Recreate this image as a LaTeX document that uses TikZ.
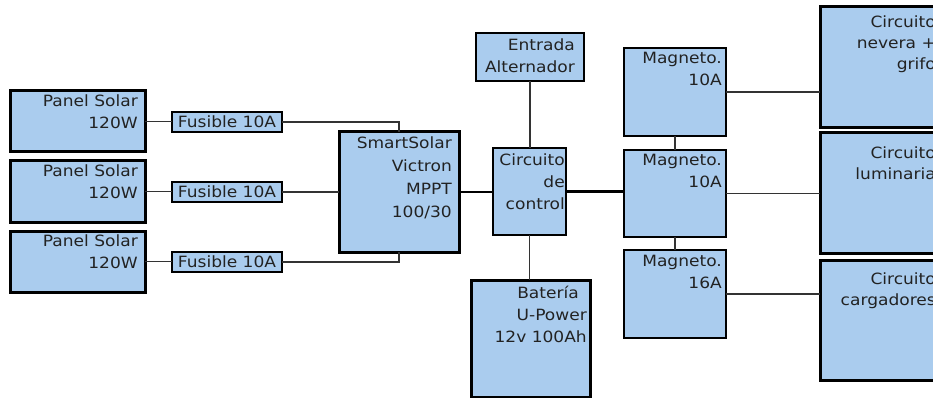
\documentclass[tikz,border=0pt]{standalone}
\usepackage{fontspec}
\setmainfont[FakeStretch=1.1]{DejaVu Sans}
\usetikzlibrary{calc}
\definecolor{boxblue}{HTML}{AACCEE}
\definecolor{wirec}{HTML}{333333}
\definecolor{txtc}{HTML}{222222}
\newcommand\fl{\rule{0pt}{13pt}}
\begin{document}
\begin{tikzpicture}[x=1pt,y=-1pt,
  box/.style={draw=black,fill=boxblue,rectangle,inner sep=0pt,outer sep=0pt,anchor=north west},
  heavy/.style={box,line width=3pt},
  medium/.style={box,line width=2pt},
  mag/.style={box,line width=2.5pt},
  light/.style={box,line width=1.2pt,text=txtc,font=\fontsize{15.5}{22}\selectfont},
  lbl/.style={anchor=north east,align=right,inner sep=0pt,text=txtc,font=\fontsize{15.5}{22}\selectfont},
  wire/.style={draw=wirec,line width=1.3pt},
  bus/.style={draw=black,line width=2.2pt}]
\clip (0,0) rectangle (933,398);
% solar panels
\node[heavy,minimum width=135pt,minimum height=61pt] (p1) at (10,91) {};
\node[heavy,minimum width=135pt,minimum height=61pt] (p2) at (10,161) {};
\node[heavy,minimum width=135pt,minimum height=61pt] (p3) at (10,231) {};
\node[lbl] (p1t) at (138,93) {\fl Panel Solar\\120W};
\node[lbl] (p2t) at (138,163) {\fl Panel Solar\\120W};
\node[lbl] (p3t) at (138,233) {\fl Panel Solar\\120W};
% fuses
\node[light,minimum width=110pt,minimum height=20pt] (f1) at (172,112) {Fusible 10A};
\node[light,minimum width=110pt,minimum height=20pt] (f2) at (172,182) {Fusible 10A};
\node[light,minimum width=110pt,minimum height=20pt] (f3) at (172,252) {Fusible 10A};
\foreach \f in {f1,f2,f3}{
  \draw[line width=2.6pt] (\f.north west) -- (\f.south west);
  \draw[line width=2.6pt] (\f.north east) -- (\f.south east);
}
% MPPT
\node[heavy,minimum width=120pt,minimum height=120pt] (ss) at (339,132) {};
\node[lbl,font=\fontsize{15.5}{23}\selectfont] (sst) at (452,135) {\fl SmartSolar\\Victron\\MPPT\\100/30};
% alternator input
\node[medium,minimum width=108pt,minimum height=48pt] (ent) at (476,33) {};
\node[lbl] (entt) at (575,37) {\fl Entrada\\Alternador};
% control circuit
\node[medium,minimum width=73pt,minimum height=87pt] (cc) at (493,148) {};
\node[lbl] (cct) at (565,152) {\fl Circuito\\de\\control};
% battery
\node[heavy,minimum width=119pt,minimum height=117pt] (bat) at (471,280) {};
\node[lbl] (batt) at (587,285) {\fl Batería\rule{8pt}{0pt}\\U-Power\\12v 100Ah};
% magnetos
\node[mag,minimum width=102pt,minimum height=88pt] (m1) at (624,48) {};
\node[mag,minimum width=102pt,minimum height=87pt] (m2) at (624,150) {};
\node[mag,minimum width=102pt,minimum height=88pt] (m3) at (624,250) {};
\node[lbl] (m1t) at (722,50) {\fl Magneto.\\10A};
\node[lbl] (m2t) at (722,152) {\fl Magneto.\\10A};
\node[lbl] (m3t) at (722,253) {\fl Magneto.\\16A};
% circuits
\node[heavy,minimum width=140pt,minimum height=121pt] (r1) at (820,7) {};
\node[heavy,minimum width=140pt,minimum height=120pt] (r2) at (820,133) {};
\node[heavy,minimum width=140pt,minimum height=120pt] (r3) at (820,260) {};
\node[lbl,font=\fontsize{15.5}{21}\selectfont] (r1t) at (936,14) {\fl Circuito\\nevera +\\grifo};
\node[lbl,font=\fontsize{15.5}{21}\selectfont] (r2t) at (936,145) {\fl Circuito\\luminaria};
\node[lbl,font=\fontsize{15.5}{21}\selectfont] (r3t) at (936,271) {\fl Circuito\\cargadores};
% connectors
\draw[wire] (p1.east) -- (p1.east -| f1.west);
\draw[wire] (p2.east) -- (p2.east -| f2.west);
\draw[wire] (p3.east) -- (p3.east -| f3.west);
\draw[wire] (f1.east) -| (ss.north);
\draw[wire] (f2.east) -- (f2.east -| ss.west);
\draw[wire] (f3.east) -| (ss.south);
\draw[bus] (ss.east) -- (ss.east -| cc.west);
\draw[bus] (cc.east) -- (cc.east -| m2.west);
\draw[wire] (ent.south) -- (ent.south |- cc.north);
\draw[wire] (cc.south) -- (cc.south |- bat.north);
\draw[wire] (m1.south) -- (m2.north);
\draw[wire] (m2.south) -- (m3.north);
\draw[wire] (m1.east) -- (m1.east -| r1.west);
\draw[wire] (m2.east) -- (m2.east -| r2.west);
\draw[wire] (m3.east) -- (m3.east -| r3.west);
\end{tikzpicture}
\end{document}
